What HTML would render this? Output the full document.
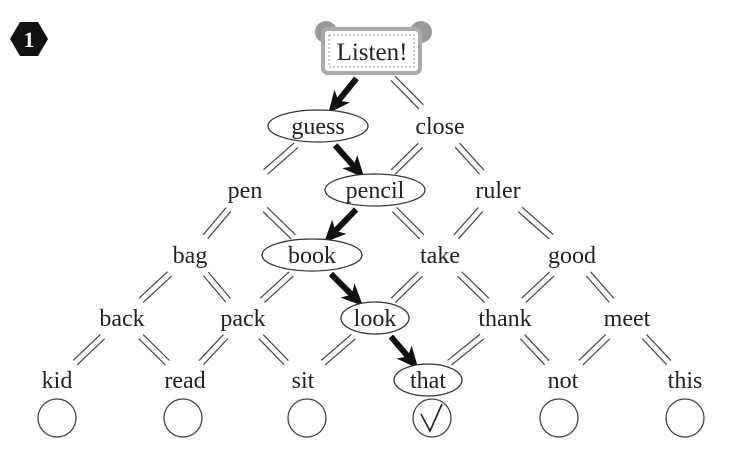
<!DOCTYPE html>
<html><head><meta charset="utf-8"><style>
html,body{margin:0;padding:0;background:#fff;}
svg{display:block;}
text{font-family:"Liberation Serif",serif;font-size:24px;fill:#222;text-anchor:middle;}
</style></head><body>
<svg id="s" width="734" height="451" viewBox="0 0 734 451" xmlns="http://www.w3.org/2000/svg">
<polygon points="20,22 38,22 48,39 38,56 20,56 10,39" fill="#111"/>
<text x="29" y="47" style="fill:#fff;font-size:22px;font-weight:bold">1</text>
<circle cx="326" cy="32" r="11" fill="#999"/>
<circle cx="421" cy="32" r="11" fill="#999"/>
<rect x="323" y="29" width="97" height="44" rx="5" fill="#fff" stroke="#aaa" stroke-width="4"/>
<rect x="329" y="35" width="85" height="32" fill="none" stroke="#999" stroke-width="1" stroke-dasharray="2,2"/>
<text x="372" y="60" style="font-size:25px">Listen!</text>
<g id="g"></g>
<g fill="none" stroke="#444" stroke-width="1.3">
<circle cx="57" cy="418" r="19"/><circle cx="183" cy="418" r="19"/><circle cx="307" cy="418" r="19"/>
<circle cx="432" cy="418" r="19"/><circle cx="559" cy="418" r="19"/><circle cx="685" cy="418" r="19"/>
<path d="M421 414 L430 431 L442 404" stroke="#222" stroke-width="1.6"/>
</g>
</svg>
<script>
var rows=[[[373,58,'']],
[[318,126,'guess'],[440,126,'close']],
[[245,190,'pen'],[375,190,'pencil'],[498,190,'ruler']],
[[190,255,'bag'],[312,255,'book'],[440,255,'take'],[572,255,'good']],
[[122,318,'back'],[243,318,'pack'],[375,318,'look'],[505,318,'thank'],[627,318,'meet']],
[[57,380,'kid'],[185,380,'read'],[303,380,'sit'],[428,380,'that'],[563,380,'not'],[685,380,'this']]];
var ell={'guess':50,'pencil':50,'book':50,'look':34,'that':34};
var h='';
for(var r=0;r<5;r++)for(var i=0;i<rows[r].length;i++){
 var p=rows[r][i];
 for(var k=0;k<2;k++){
  var c=rows[r+1][i+k];
  var dx=c[0]-p[0],dy=c[1]-p[1];
  var t0=r==0?0.3:0.3,t1=0.72;
  var x0=p[0]+dx*t0,y0=p[1]+dy*t0,x1=p[0]+dx*t1,y1=p[1]+dy*t1;
  var L=Math.hypot(dx,dy),nx=-dy/L*3,ny=dx/L*3;
  var isPath=false;
  if(r==0)isPath=(k==0);
  if(r==1)isPath=(i==0&&k==1);
  if(r==2)isPath=(i==1&&k==0);
  if(r==3)isPath=(i==1&&k==1);
  if(r==4)isPath=(i==2&&k==1);
  if(isPath){
   var ux=dx/L,uy=dy/L,vx=-uy,vy=ux;
   var hx=x1+ux*8,hy=y1+uy*8;
   var bx=hx-ux*22,by=hy-uy*22;
   h+='<line x1="'+(x0)+'" y1="'+(y0)+'" x2="'+(bx+ux*8)+'" y2="'+(by+uy*8)+'" stroke="#111" stroke-width="6"/>';
   h+='<polygon fill="#111" points="'+hx+','+hy+' '+(bx+vx*10)+','+(by+vy*10)+' '+(bx+ux*6)+','+(by+uy*6)+' '+(bx-vx*10)+','+(by-vy*10)+'"/>';
  } else {
   h+='<line x1="'+(x0+nx)+'" y1="'+(y0+ny)+'" x2="'+(x1+nx)+'" y2="'+(y1+ny)+'" stroke="#444" stroke-width="1.2"/>';
   h+='<line x1="'+(x0-nx)+'" y1="'+(y0-ny)+'" x2="'+(x1-nx)+'" y2="'+(y1-ny)+'" stroke="#444" stroke-width="1.2"/>';
  }
 }
}
for(var r=1;r<6;r++)for(var i=0;i<rows[r].length;i++){
 var p=rows[r][i];
 if(ell[p[2]])h+='<ellipse cx="'+p[0]+'" cy="'+p[1]+'" rx="'+ell[p[2]]+'" ry="16" fill="#fff" stroke="#333" stroke-width="1.3"/>';
 h+='<text x="'+p[0]+'" y="'+(p[1]+8)+'">'+p[2]+'</text>';
}
document.getElementById('g').innerHTML=h;
</script>
</body></html>
